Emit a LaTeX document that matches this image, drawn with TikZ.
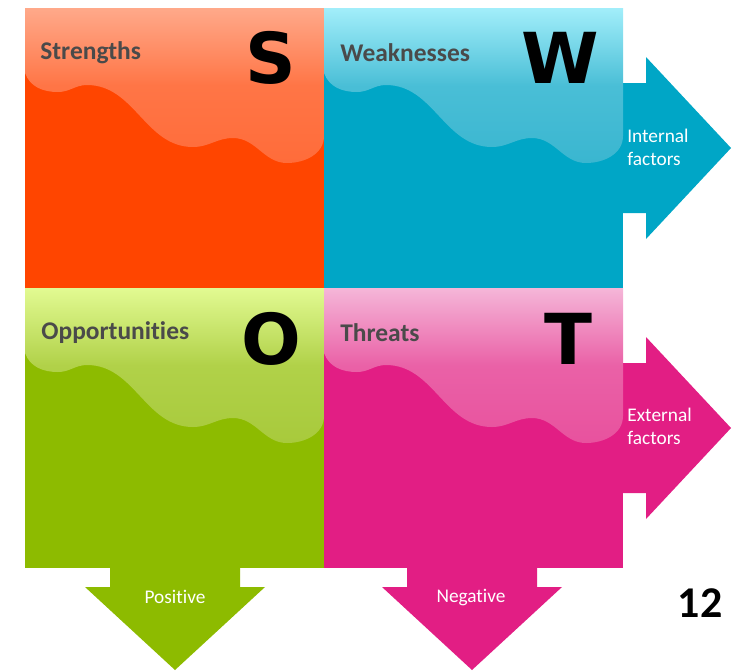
\documentclass[tikz,border=0pt]{standalone}
\usepackage{fontspec}
\setmainfont{Carlito}[Ligatures={NoCommon}]
\newfontfamily\letterfont{DejaVu Sans}
\definecolor{s-base}{HTML}{FF4500}
\definecolor{s-top}{HTML}{FFA98A}
\definecolor{s-mid}{HTML}{FF6C3A}
\definecolor{w-base}{HTML}{00A6C6}
\definecolor{w-top}{HTML}{A2EEFA}
\definecolor{w-mid}{HTML}{3AB6D0}
\definecolor{o-base}{HTML}{8DBB00}
\definecolor{o-top}{HTML}{E2FA92}
\definecolor{o-mid}{HTML}{A8CA3C}
\definecolor{t-base}{HTML}{E21E84}
\definecolor{t-top}{HTML}{F5B6D8}
\definecolor{t-mid}{HTML}{E8529E}
\definecolor{namegray}{HTML}{4A4A4A}
\tikzstyle{quadname}=[anchor=west,inner sep=0pt,text=namegray,font=\fontsize{14.5}{16}\selectfont\bfseries]
\tikzstyle{bigletter}=[inner sep=0pt,font=\letterfont\fontsize{40}{40}\selectfont\bfseries]
\tikzstyle{arrowtext}=[text=white,inner sep=0pt,font=\fontsize{11}{13}\selectfont]

\begin{document}
\begin{tikzpicture}[x=0.02cm,y=-0.02cm]
    \useasboundingbox (0,0) rectangle (749,670);
    % arrows behind the squares
    \foreach \cy/\col in {148/w-base,428/t-base}
    \fill[\col] (615,\cy-65) -- (646,\cy-65) -- (646,\cy-91) -- (731,\cy) -- (646,\cy+91) -- (646,\cy+65) -- (615,\cy+65) -- cycle;
    \foreach \cx/\col in {175/o-base,472/t-base}
    \fill[\col] (\cx-65,560) -- (\cx-65,587) -- (\cx-90,587) -- (\cx,670) -- (\cx+90,587) -- (\cx+65,587) -- (\cx+65,560) -- cycle;

    % the four squares with their waves
    \foreach \ox/\oy/\q in {25/8/s,324/8/w,25/288/o,324/288/t}{
    \begin{scope}[shift={(\ox,\oy)}]
        \fill[\q-base] (0,0) rectangle (299,280);
        \shade[top color=\q-top,bottom color=\q-mid,middle color=\q-mid!85!\q-top] (0,0) -- (0,65)
            to[out=-70,in=180] (33,84) to[out=0,in=180] (62,77)
            to[out=0,in=180] (168,139) to[out=0,in=180] (208,130)
            to[out=0,in=180] (262,155) to[out=0,in=-90] (299,128) -- (299,0) -- cycle;
    \end{scope}
    }

    \node[quadname] (strengths) at (40,53) {Strengths};
    \node[quadname] (weaknesses) at (340,53) {Weaknesses};
    \node[quadname] (opportunities) at (41,333) {Opportunities};
    \node[quadname] (threats) at (340,333) {Threats};

    \node[bigletter] (letterS) at (271,58) {S};
    \node[bigletter] (letterW) at (560,58) {W};
    \node[bigletter] (letterO) at (271,339) {O};
    \node[bigletter] (letterT) at (568,339) {T};

    \node[arrowtext,anchor=west,align=left] (internal) at (627,147) {Internal\\factors};
    \node[arrowtext,anchor=west,align=left] (external) at (627,426) {External\\factors};
    \node[arrowtext] (positive) at (175,597) {Positive};
    \node[arrowtext] (negative) at (471,597) {Negative};

    \node[font=\fontsize{25}{25}\selectfont\bfseries] (pagenum) at (700,603) {12};
\end{tikzpicture}
\end{document}
